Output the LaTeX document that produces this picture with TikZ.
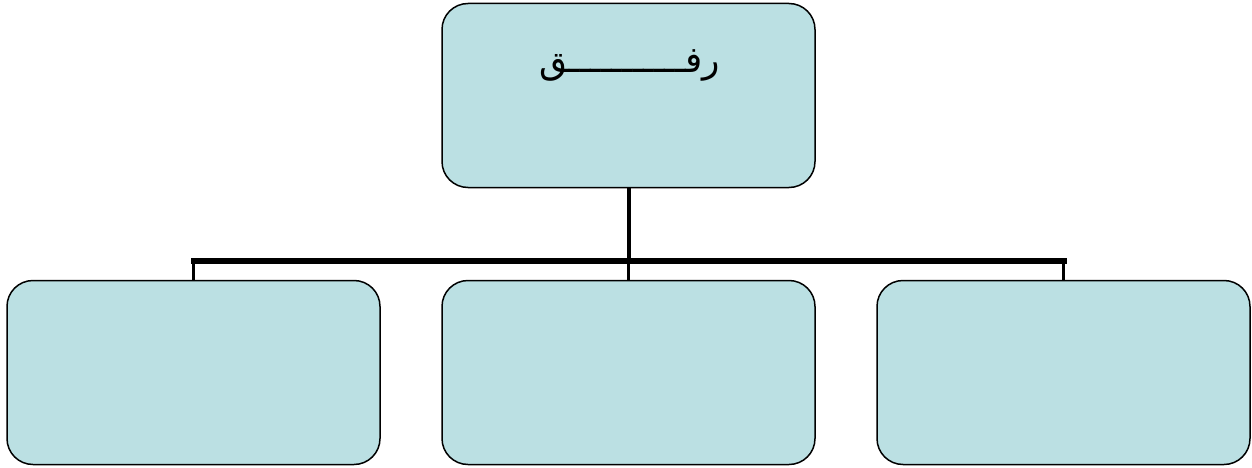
\documentclass[tikz,border=0pt]{standalone}
\usepackage{fontspec}
\newfontfamily\arabicfont[Script=Arabic]{DejaVu Sans}
\TeXXeTstate=1
\usetikzlibrary{positioning}
\definecolor{boxfill}{HTML}{BBE0E3}

\tikzset{
    orgbox/.style = {draw, line width = 1.5pt, fill = boxfill, rounded corners = 26pt,
                     minimum width = 373pt, minimum height = 184pt, inner sep = 0pt},
    trunk/.style  = {line width = 4pt},
    bar/.style    = {line width = 6pt},
    drop/.style   = {line width = 3pt}
}

\begin{document}
\begin{tikzpicture}[x = 1pt, y = -1pt]
    \useasboundingbox (0, 0) rectangle (1252, 468);

    % draw boxes
    \node[orgbox] (top)    at (628.5, 95.5)  {};
    \node[orgbox] (left)   at (193.5, 372.5) {};
    \node[orgbox] (middle) at (628.5, 372.5) {};
    \node[orgbox] (right)  at (1063.5, 372.5) {};

    % draw label
    \node[font = \arabicfont\fontsize{36}{42}\selectfont] (title) at (630, 65)
        {\beginR رفـــــــــــق\endR};

    % draw connectors
    \coordinate (join) at (628.5, 261);
    \coordinate (barL) at (193.5, 261);
    \coordinate (barR) at (1063.5, 261);

    \draw[trunk] (top.south) -- (join);
    \draw[bar, line cap = rect] (barL) -- (barR);
    \draw[drop] (barL) -- (left.north);
    \draw[drop] (join) -- (middle.north);
    \draw[drop] (barR) -- (right.north);

\end{tikzpicture}
\end{document}
